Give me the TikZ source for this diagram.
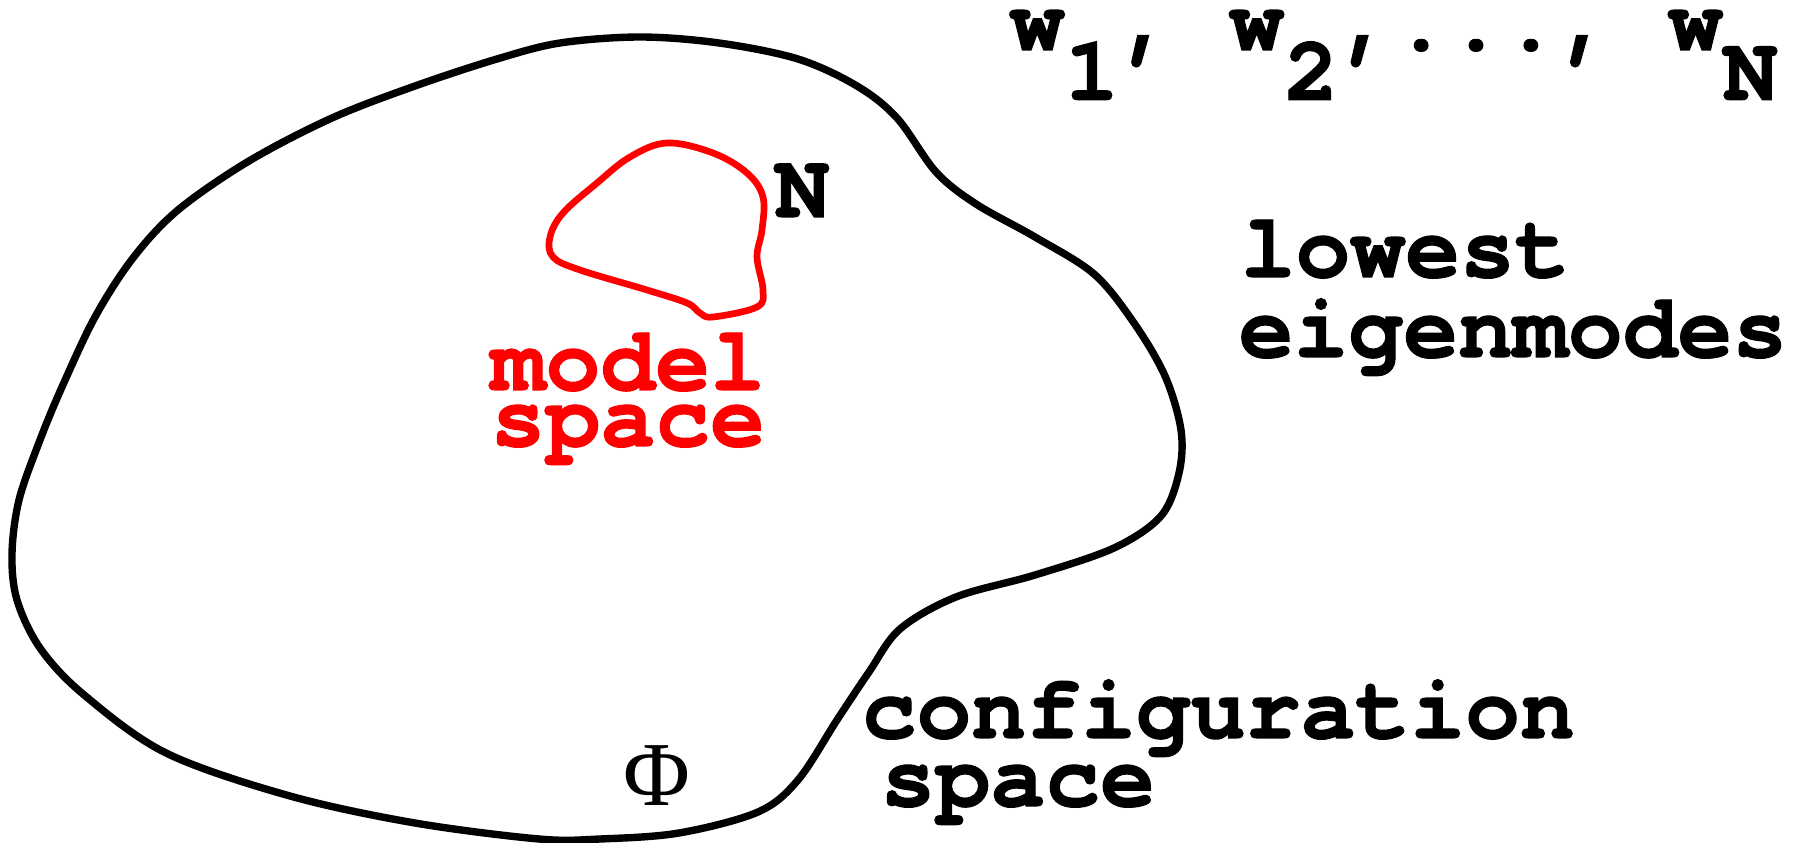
\documentclass[tikz,border=0pt]{standalone}
\usepackage{fontspec}
\setmainfont{Liberation Serif}
\setmonofont{TeX Gyre Cursor}[Ligatures=NoCommon,BoldFeatures={FakeBold=1.2}]
\newcommand{\lowsub}[1]{\lower0.545em\hbox{#1}}
\begin{document}
\begin{tikzpicture}[x=0.01cm,y=-0.01cm,
	lbl/.style={anchor=base west,inner sep=0pt,font=\fontsize{26}{30}\selectfont\ttfamily\bfseries},
	outline/.style={line width=2.1pt,line join=round}]
	\useasboundingbox (0,0) rectangle (1802,843);
	\draw[outline] plot[smooth cycle,tension=0.55] coordinates {(12,554) (19,500) (40,440) (62,387) (95,317) (133,258) (178,210) (249,161) (332,118) (415,86) (497,59) (560,43) (640,37) (719,43) (798,59) (857,86) (897,118) (936,172) (976,204) (1035,237) (1094,274) (1134,323) (1165,376) (1181,430) (1179,473) (1161,516) (1114,548) (1035,575) (956,597) (900,629) (869,672) (837,720) (798,780) (758,812) (679,833) (600,839) (539,839) (415,823) (290,796) (166,753) (83,694) (40,648) (17,600)};
	\draw[outline,red,line width=1.9pt] plot[smooth cycle,tension=0.6] coordinates {(667,143) (713,153) (747,173) (763,197) (762,230) (757,257) (763,290) (757,307) (713,317) (700,313) (687,303) (647,290) (580,270) (553,257) (550,237) (563,213) (597,183) (630,157)};
	\node[lbl] (modes) at (1009,50) {w\lowsub{1}, w\lowsub{2},..., w\lowsub{N}};
	\node[lbl] (dimN) at (774,217) {N};
	\node[lbl,red] (model) at (490,390) {model};
	\node[lbl,red] (mspace) at (490,446) {space};
	\node[lbl] (lowest) at (1240,277) {lowest};
	\node[lbl] (eigen) at (1238,357) {eigenmodes};
	\node[lbl] (config) at (861,738) {configuration};
	\node[lbl] (cspace) at (880,806) {space};
	\node[anchor=base,inner sep=0pt,font=\fontsize{26}{30}\selectfont] (phi) at (657,806) {Φ};
\end{tikzpicture}
\end{document}
